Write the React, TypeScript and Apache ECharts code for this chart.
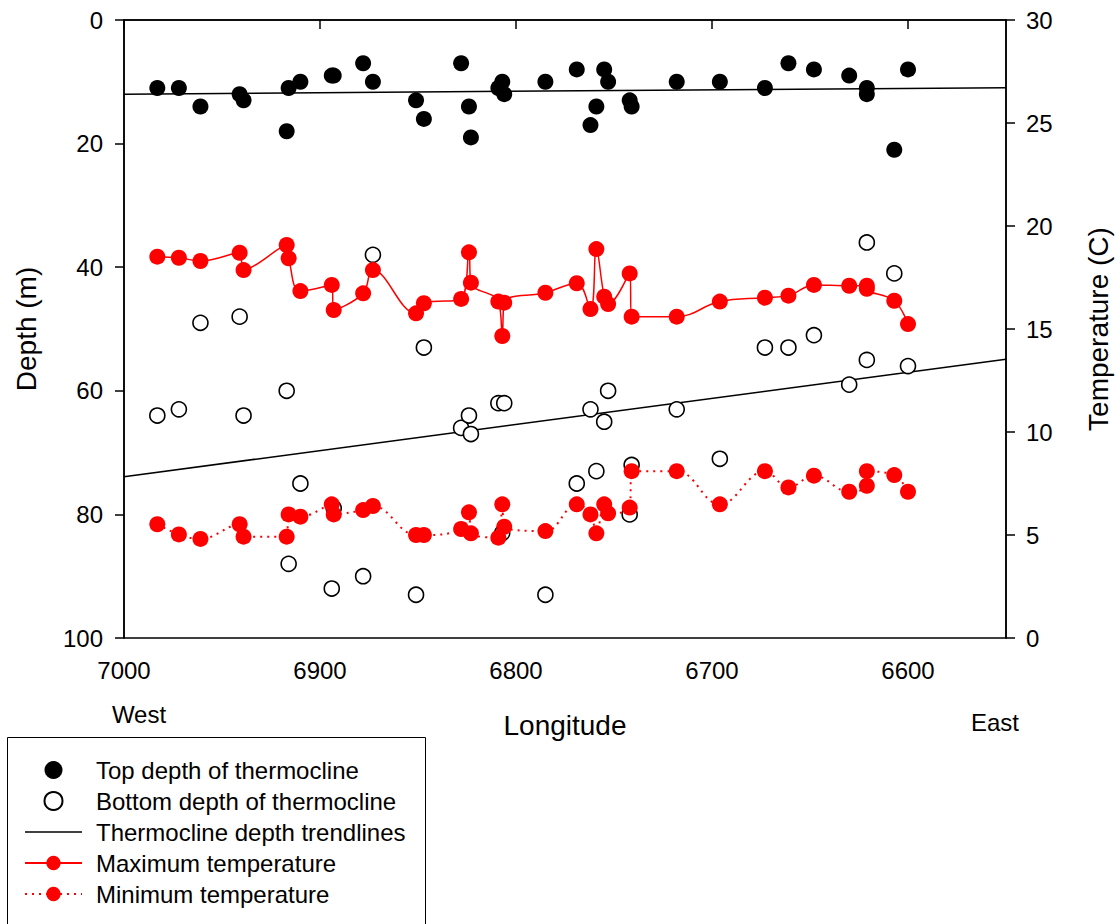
import React, { useEffect, useRef } from "react";
import * as echarts from "echarts";

// Station longitudes (west -> east)
const stationLon = [6983, 6972, 6961, 6941, 6939, 6917, 6916, 6910, 6894, 6893, 6878, 6873, 6851, 6847, 6828, 6824, 6823, 6809, 6807, 6806, 6785, 6769, 6762, 6759, 6755, 6753, 6742, 6741, 6718, 6696, 6673, 6661, 6648, 6630, 6621, 6621, 6607, 6600];
// Depth (m)
const topDepth = [11, 11, 14, 12, 13, 18, 11, 10, 9, 9, 7, 10, 13, 16, 7, 14, 19, 11, 10, 12, 10, 8, 17, 14, 8, 10, 13, 14, 10, 10, 11, 7, 8, 9, 11, 12, 21, 8];
const bottomDepth = [64, 63, 49, 48, 64, 60, 88, 75, 92, 79, 90, 38, 93, 53, 66, 64, 67, 62, 83, 62, 93, 75, 63, 73, 65, 60, 80, 72, 63, 71, 53, 53, 51, 59, 36, 55, 41, 56];
// Temperature (C)
const maxTemp = [18.51, 18.46, 18.3, 18.7, 17.86, 19.08, 18.43, 16.84, 17.14, 15.92, 16.73, 17.86, 15.76, 16.25, 16.46, 18.72, 17.25, 16.33, 14.66, 16.28, 16.76, 17.22, 15.97, 18.88, 16.57, 16.21, 17.7, 15.6, 15.6, 16.33, 16.52, 16.62, 17.14, 17.1, 17.1, 16.95, 16.37, 15.24];
const minTemp = [5.52, 5.03, 4.81, 5.52, 4.92, 4.92, 6.0, 5.89, 6.49, 6.0, 6.21, 6.41, 5.0, 5.0, 5.29, 6.1, 5.08, 4.87, 6.49, 5.4, 5.19, 6.49, 6.0, 5.08, 6.49, 6.05, 6.33, 8.1, 8.1, 6.49, 8.1, 7.31, 7.88, 7.1, 7.39, 8.1, 7.91, 7.1];
// Trendlines (read at the axis ends)
const trendLon = [7000, 6550];
const trendTop = [12.0, 10.95];
const trendBottom = [73.9, 54.9];
// Tick labels
const lonTicks = [7000, 6900, 6800, 6700, 6600];

const FONT = '"Liberation Sans", Arial, Helvetica, sans-serif';

const LEGEND_NAMES = [
  "Top depth of thermocline",
  "Bottom depth of thermocline",
  "Thermocline depth trendlines",
  "Maximum temperature",
  "Minimum temperature",
];

export default function App() {
  const ref = useRef<HTMLDivElement>(null);
  useEffect(() => {
    const chart = echarts.init(ref.current!, null, { renderer: "svg" });
    const pair = (xs: number[], ys: number[]) => xs.map((x, i) => [x, ys[i]]);
    const axisText = { fontSize: 24, color: "#000", fontFamily: FONT, formatter: (v: number) => String(v) };
    chart.setOption({
      animation: false,
      textStyle: { fontFamily: FONT, color: "#000" },
      grid: {
        left: 124,
        right: 112,
        top: 20,
        bottom: 286,
        show: true,
        borderColor: "#000",
        borderWidth: 1.5,
        backgroundColor: "transparent",
      },
      xAxis: {
        type: "value",
        inverse: true,
        min: 6550,
        max: 7000,
        name: "Longitude",
        nameLocation: "middle",
        nameGap: 73,
        nameTextStyle: { fontSize: 28, color: "#000", fontFamily: FONT },
        axisLine: { show: true, lineStyle: { color: "#000", width: 1.5 } },
        axisTick: { show: true, length: 9, customValues: lonTicks, lineStyle: { color: "#000", width: 1.5 } },
        axisLabel: { ...axisText, customValues: lonTicks, margin: 20 },
        splitLine: { show: false },
      },
      yAxis: [
        {
          type: "value",
          position: "left",
          inverse: true,
          min: 0,
          max: 100,
          interval: 20,
          name: "Depth (m)",
          nameLocation: "middle",
          nameRotate: 90,
          nameGap: 84,
          nameTextStyle: { fontSize: 28, color: "#000", fontFamily: FONT },
          axisLine: { show: true, lineStyle: { color: "#000", width: 1.5 } },
          axisTick: { show: true, length: 9, lineStyle: { color: "#000", width: 1.5 } },
          axisLabel: { ...axisText, margin: 21 },
          splitLine: { show: false },
        },
        {
          type: "value",
          position: "right",
          min: 0,
          max: 30,
          interval: 5,
          name: "Temperature (C)",
          nameLocation: "middle",
          nameRotate: 90,
          nameGap: 78,
          nameTextStyle: { fontSize: 28, color: "#000", fontFamily: FONT },
          axisLine: { show: true, lineStyle: { color: "#000", width: 1.5 } },
          axisTick: { show: true, length: 9, lineStyle: { color: "#000", width: 1.5 } },
          axisLabel: { ...axisText, margin: 20 },
          splitLine: { show: false },
        },
      ],
      legend: {
        orient: "vertical",
        left: 24,
        top: 758,
        padding: 0,
        itemGap: 7,
        itemWidth: 57,
        itemHeight: 18,
        selectedMode: false,
        textStyle: { fontSize: 24, color: "#000", fontFamily: FONT, padding: [0, 0, 0, 9] },
        data: [
          { name: LEGEND_NAMES[0] },
          { name: LEGEND_NAMES[1] },
          { name: LEGEND_NAMES[2], icon: "path://M0,0h57v1.5h-57z", itemStyle: { color: "#000" } },
          { name: LEGEND_NAMES[3] },
          { name: LEGEND_NAMES[4] },
        ],
      },
      graphic: [
        {
          type: "rect",
          shape: { x: 7.5, y: 737.5, width: 418, height: 260 },
          style: { fill: "none", stroke: "#000", lineWidth: 1 },
          silent: true,
        },
        {
          type: "text",
          x: 139,
          y: 714,
          style: { text: "West", fontSize: 24, fontFamily: FONT, fill: "#000", align: "center", verticalAlign: "middle" },
        },
        {
          type: "text",
          x: 995,
          y: 722,
          style: { text: "East", fontSize: 24, fontFamily: FONT, fill: "#000", align: "center", verticalAlign: "middle" },
        },
      ],
      series: [
        {
          name: LEGEND_NAMES[2],
          type: "line",
          yAxisIndex: 0,
          data: pair(trendLon, trendTop),
          symbol: "none",
          lineStyle: { color: "#000", width: 1.5 },
          itemStyle: { color: "#000" },
          z: 1,
        },
        {
          name: LEGEND_NAMES[2],
          type: "line",
          yAxisIndex: 0,
          data: pair(trendLon, trendBottom),
          symbol: "none",
          lineStyle: { color: "#000", width: 1.5 },
          itemStyle: { color: "#000" },
          z: 1,
        },
        {
          name: LEGEND_NAMES[0],
          type: "scatter",
          yAxisIndex: 0,
          data: pair(stationLon, topDepth),
          symbol: "circle",
          symbolSize: 16,
          itemStyle: { color: "#000", opacity: 1 },
          z: 2,
        },
        {
          name: LEGEND_NAMES[1],
          type: "scatter",
          yAxisIndex: 0,
          data: pair(stationLon, bottomDepth),
          symbol: "circle",
          symbolSize: 15,
          itemStyle: { color: "#fff", borderColor: "#000", borderWidth: 1.6, opacity: 1 },
          z: 2,
        },
        {
          name: LEGEND_NAMES[3],
          type: "line",
          yAxisIndex: 1,
          data: pair(stationLon, maxTemp),
          symbol: "circle",
          symbolSize: 16,
          smooth: 0.4,
          itemStyle: { color: "#ff0000" },
          lineStyle: { color: "#ff0000", width: 1.5 },
          z: 3,
        },
        {
          name: LEGEND_NAMES[4],
          type: "line",
          yAxisIndex: 1,
          data: pair(stationLon, minTemp),
          symbol: "circle",
          symbolSize: 16,
          smooth: 0.4,
          itemStyle: { color: "#ff0000" },
          lineStyle: { color: "#ff0000", width: 2, type: [2, 5] },
          z: 3,
        },
      ],
    });
    return () => chart.dispose();
  }, []);
  return (
    <div
      ref={ref}
      style={{ position: "absolute", left: 0, top: 0, width: 1120, height: 924, background: "#fff" }}
    />
  );
}
